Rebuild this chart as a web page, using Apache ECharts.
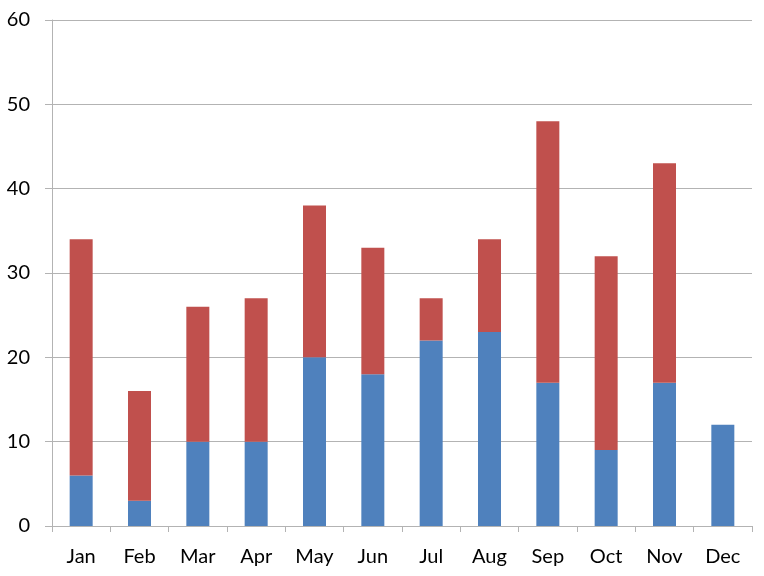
<!DOCTYPE html>
<html>
<head>
<meta charset="utf-8">
<script src="https://cdn.jsdelivr.net/npm/echarts@6/dist/echarts.min.js"></script>
<style>html,body{margin:0;padding:0;background:#fff;}#c{width:764px;height:576px;}</style>
</head>
<body>
<div id="c"></div>
<script>
const categories = ['Jan','Feb','Mar','Apr','May','Jun','Jul','Aug','Sep','Oct','Nov','Dec'];
const blueValues = [6, 3, 10, 10, 20, 18, 22, 23, 17, 9, 17, 12];
const redValues = [28, 13, 16, 17, 18, 15, 5, 11, 31, 23, 26, 0];

const chart = echarts.init(document.getElementById('c'), null, {renderer: 'canvas'});
const font = 'Lato, "Open Sans", sans-serif';
chart.setOption({
  animation: false,
  grid: {left: 52, right: 12, top: 20, bottom: 50, containLabel: false},
  xAxis: {
    type: 'category',
    data: categories,
    axisLine: {show: true, lineStyle: {color: '#b3b3b3', width: 1}},
    axisTick: {show: true, length: 6, alignWithLabel: false, lineStyle: {color: '#b3b3b3'}},
    axisLabel: {color: '#000', fontSize: 20, fontFamily: font, margin: 21}
  },
  yAxis: {
    type: 'value',
    min: 0, max: 60, interval: 10,
    axisLine: {show: true, lineStyle: {color: '#b3b3b3', width: 1}},
    axisTick: {show: true, length: 7, lineStyle: {color: '#b3b3b3'}},
    axisLabel: {color: '#000', fontSize: 20, fontFamily: font, margin: 22},
    splitLine: {show: true, lineStyle: {color: '#b3b3b3', width: 1}}
  },
  series: [
    {type: 'bar', stack: 'a', data: blueValues, barWidth: 23, itemStyle: {color: '#4F81BD'}},
    {type: 'bar', stack: 'a', data: redValues, barWidth: 23, itemStyle: {color: '#C0504D'}}
  ]
});
</script>
</body>
</html>
